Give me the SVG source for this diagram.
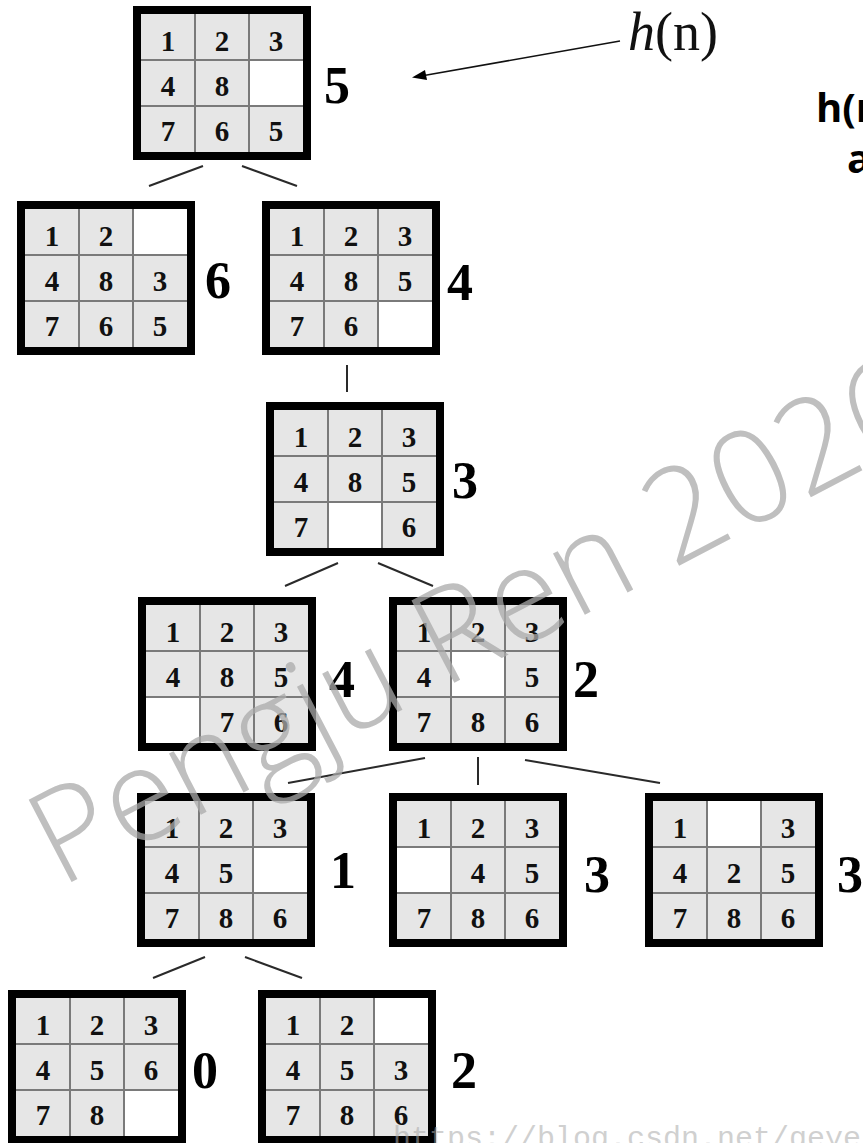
<svg xmlns="http://www.w3.org/2000/svg" xmlns:xlink="http://www.w3.org/1999/xlink" width="863" height="1143" viewBox="0 0 863 1143">
<style>
.d{font-family:"Liberation Serif","Times New Roman",serif;font-weight:bold;font-size:29px;fill:#111;text-anchor:middle}
.h{font-family:"Liberation Serif","Times New Roman",serif;font-weight:bold;font-size:52px;fill:#000;text-anchor:middle}
.e{fill:#fff}
.c{stroke:#2a2a2a;stroke-width:2;fill:none}
.wm{font-family:"Open Sans","Liberation Sans",sans-serif;font-weight:300;font-size:130px;fill:#aaa;opacity:0.75}
.url{font-family:"Liberation Mono","Courier New",monospace;font-size:30px;fill:#aaa;opacity:0.55}
.cap{font-family:"Open Sans","Liberation Sans",sans-serif;font-weight:bold;font-size:40px;fill:#000}
</style>
<defs>
<g id="board">
<rect x="8" y="8" width="162" height="138" fill="#e6e6e6"/>
</g>
<g id="grid">
<path d="M62 8V146M116 8V146M8 54H170M8 100H170" stroke="#7a7a7a" stroke-width="2" fill="none"/>
<rect x="4" y="4" width="170" height="146" fill="none" stroke="#000" stroke-width="8"/>
</g>
</defs>

<g id="connectors">
<line class="c" x1="149" y1="186" x2="203" y2="166"/>
<line class="c" x1="242" y1="166" x2="297" y2="186"/>
<line class="c" x1="347" y1="365" x2="347" y2="392"/>
<line class="c" x1="338" y1="563" x2="285" y2="586"/>
<line class="c" x1="378" y1="563" x2="433" y2="586"/>
<line class="c" x1="425" y1="758" x2="288" y2="783"/>
<line class="c" x1="478" y1="757" x2="478" y2="785"/>
<line class="c" x1="525" y1="760" x2="660" y2="783"/>
<line class="c" x1="205" y1="957" x2="153" y2="978"/>
<line class="c" x1="245" y1="957" x2="302" y2="978"/>
<path d="M620 41L424 75.5" stroke="#111" stroke-width="1.6" fill="none"/>
<path d="M412 77.5L425 70L427 80z" fill="#000"/>
</g>

<g id="n0" transform="translate(133,6)">
<use href="#board"/><rect class="e" x="116" y="54" width="54" height="46"/><use href="#grid"/>
<text class="d" x="35" y="45">1</text><text class="d" x="89" y="45">2</text><text class="d" x="143" y="45">3</text>
<text class="d" x="35" y="90">4</text><text class="d" x="89" y="90">8</text>
<text class="d" x="35" y="135">7</text><text class="d" x="89" y="135">6</text><text class="d" x="143" y="135">5</text>
<text class="h" x="204" y="97" font-size="54">5</text>
</g>

<g id="n1" transform="translate(17,201)">
<use href="#board"/><rect class="e" x="116" y="8" width="54" height="46"/><use href="#grid"/>
<text class="d" x="35" y="45">1</text><text class="d" x="89" y="45">2</text>
<text class="d" x="35" y="90">4</text><text class="d" x="89" y="90">8</text><text class="d" x="143" y="90">3</text>
<text class="d" x="35" y="135">7</text><text class="d" x="89" y="135">6</text><text class="d" x="143" y="135">5</text>
<text class="h" x="201" y="97">6</text>
</g>

<g id="n2" transform="translate(262,201)">
<use href="#board"/><rect class="e" x="116" y="100" width="54" height="46"/><use href="#grid"/>
<text class="d" x="35" y="45">1</text><text class="d" x="89" y="45">2</text><text class="d" x="143" y="45">3</text>
<text class="d" x="35" y="90">4</text><text class="d" x="89" y="90">8</text><text class="d" x="143" y="90">5</text>
<text class="d" x="35" y="135">7</text><text class="d" x="89" y="135">6</text>
<text class="h" x="198" y="99">4</text>
</g>

<g id="n3" transform="translate(266,402)">
<use href="#board"/><rect class="e" x="62" y="100" width="54" height="46"/><use href="#grid"/>
<text class="d" x="35" y="45">1</text><text class="d" x="89" y="45">2</text><text class="d" x="143" y="45">3</text>
<text class="d" x="35" y="90">4</text><text class="d" x="89" y="90">8</text><text class="d" x="143" y="90">5</text>
<text class="d" x="35" y="135">7</text><text class="d" x="143" y="135">6</text>
<text class="h" x="199" y="96">3</text>
</g>

<g id="n4" transform="translate(138,597)">
<use href="#board"/><rect class="e" x="8" y="100" width="54" height="46"/><use href="#grid"/>
<text class="d" x="35" y="45">1</text><text class="d" x="89" y="45">2</text><text class="d" x="143" y="45">3</text>
<text class="d" x="35" y="90">4</text><text class="d" x="89" y="90">8</text><text class="d" x="143" y="90">5</text>
<text class="d" x="89" y="135">7</text><text class="d" x="143" y="135">6</text>
<text class="h" x="204" y="100">4</text>
</g>

<g id="n5" transform="translate(389,597)">
<use href="#board"/><rect class="e" x="62" y="54" width="54" height="46"/><use href="#grid"/>
<text class="d" x="35" y="45">1</text><text class="d" x="89" y="45">2</text><text class="d" x="143" y="45">3</text>
<text class="d" x="35" y="90">4</text><text class="d" x="143" y="90">5</text>
<text class="d" x="35" y="135">7</text><text class="d" x="89" y="135">8</text><text class="d" x="143" y="135">6</text>
<text class="h" x="197" y="100">2</text>
</g>

<g id="n6" transform="translate(137,793)">
<use href="#board"/><rect class="e" x="116" y="54" width="54" height="46"/><use href="#grid"/>
<text class="d" x="35" y="45">1</text><text class="d" x="89" y="45">2</text><text class="d" x="143" y="45">3</text>
<text class="d" x="35" y="90">4</text><text class="d" x="89" y="90">5</text>
<text class="d" x="35" y="135">7</text><text class="d" x="89" y="135">8</text><text class="d" x="143" y="135">6</text>
<text class="h" x="206" y="95">1</text>
</g>

<g id="n7" transform="translate(389,793)">
<use href="#board"/><rect class="e" x="8" y="54" width="54" height="46"/><use href="#grid"/>
<text class="d" x="35" y="45">1</text><text class="d" x="89" y="45">2</text><text class="d" x="143" y="45">3</text>
<text class="d" x="89" y="90">4</text><text class="d" x="143" y="90">5</text>
<text class="d" x="35" y="135">7</text><text class="d" x="89" y="135">8</text><text class="d" x="143" y="135">6</text>
<text class="h" x="208" y="99">3</text>
</g>

<g id="n8" transform="translate(645,793)">
<use href="#board"/><rect class="e" x="62" y="8" width="54" height="46"/><use href="#grid"/>
<text class="d" x="35" y="45">1</text><text class="d" x="143" y="45">3</text>
<text class="d" x="35" y="90">4</text><text class="d" x="89" y="90">2</text><text class="d" x="143" y="90">5</text>
<text class="d" x="35" y="135">7</text><text class="d" x="89" y="135">8</text><text class="d" x="143" y="135">6</text>
<text class="h" x="205" y="99">3</text>
</g>

<g id="n9" transform="translate(8,990)">
<use href="#board"/><rect class="e" x="116" y="100" width="54" height="46"/><use href="#grid"/>
<text class="d" x="35" y="45">1</text><text class="d" x="89" y="45">2</text><text class="d" x="143" y="45">3</text>
<text class="d" x="35" y="90">4</text><text class="d" x="89" y="90">5</text><text class="d" x="143" y="90">6</text>
<text class="d" x="35" y="135">7</text><text class="d" x="89" y="135">8</text>
<text class="h" x="197" y="98">0</text>
</g>

<g id="n10" transform="translate(258,990)">
<use href="#board"/><rect class="e" x="116" y="8" width="54" height="46"/><use href="#grid"/>
<text class="d" x="35" y="45">1</text><text class="d" x="89" y="45">2</text>
<text class="d" x="35" y="90">4</text><text class="d" x="89" y="90">5</text><text class="d" x="143" y="90">3</text>
<text class="d" x="35" y="135">7</text><text class="d" x="89" y="135">8</text><text class="d" x="143" y="135">6</text>
<text class="h" x="206" y="98">2</text>
</g>

<g id="hn-label">
<text x="628" y="50" font-family="Liberation Serif, serif" font-size="54" fill="#111"><tspan font-style="italic">h</tspan>(n)</text>
</g>

<g id="side-text">
<text class="cap" x="816" y="122">h(n</text>
<text class="cap" x="847" y="173">a</text>
</g>

<text class="url" x="393" y="1147">https://blog.csdn.net/geye</text>
<text class="wm" transform="translate(60,888) rotate(-27.5)">Pengju Ren 2026</text>
</svg>
